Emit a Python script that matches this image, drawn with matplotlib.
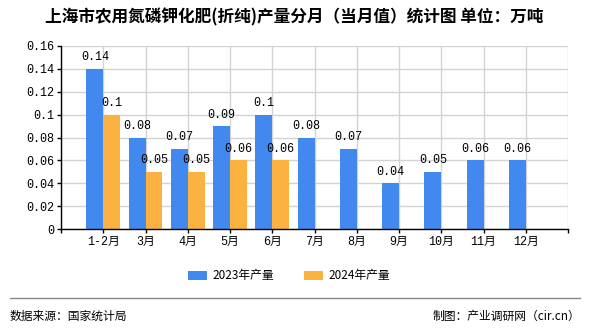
import matplotlib as mpl
import matplotlib.pyplot as plt
import numpy as np

mpl.rcParams['font.family'] = ['Noto Sans CJK SC', 'DejaVu Sans']
mono = ['Liberation Mono', 'Noto Sans CJK SC']

months = ['1-2月', '3月', '4月', '5月', '6月', '7月', '8月', '9月', '10月', '11月', '12月']
output_2023 = [0.14, 0.08, 0.07, 0.09, 0.1, 0.08, 0.07, 0.04, 0.05, 0.06, 0.06]
output_2024 = [0.1, 0.05, 0.05, 0.06, 0.06]
yticks = [0, 0.02, 0.04, 0.06, 0.08, 0.1, 0.12, 0.14, 0.16]

blue = '#4189ee'
orange = '#fbb240'
w = 0.4

fig = plt.figure(figsize=(5.9, 3.3), dpi=100)
ax = fig.add_axes([61/590, 1-229/330, (568-61)/590, (229-46)/330])

x1 = np.arange(len(output_2023))
x2 = np.arange(len(output_2024))
b1 = ax.bar(x1 - w/2, output_2023, w, color=blue, label='2023年产量', zorder=3)
b2 = ax.bar(x2 + w/2, output_2024, w, color=orange, label='2024年产量', zorder=3)

def fmt(v):
    return ('%.2f' % v).rstrip('0')

for bars, vals in ((b1, output_2023), (b2, output_2024)):
    for b, v in zip(bars, vals):
        ax.annotate(fmt(v), (b.get_x() + b.get_width()/2, v), xytext=(0, 4),
                    textcoords='offset points', ha='center', va='bottom',
                    fontsize=8.5, family=mono)

ax.set_xlim(-1, len(months))
ax.set_ylim(0, 0.16)
ax.set_yticks(yticks)
ax.set_yticklabels([fmt(v) if v else '0' for v in yticks], fontsize=8.5, family=mono)
ax.set_xticks(np.arange(-1, len(months) + 1))
ax.set_xticklabels([''] + months + [''], fontsize=8.5, family=mono)
ax.tick_params(axis='both', length=3, width=1, color='black', pad=2)
ax.grid(True, color='#d3d3d3', linewidth=1, zorder=0)
ax.set_axisbelow(True)
for s in ('top', 'right'):
    ax.spines[s].set_visible(False)
for s in ('left', 'bottom'):
    ax.spines[s].set_color('black')
    ax.spines[s].set_linewidth(1)
    ax.spines[s].set_zorder(4)

fig.text(294/590, 1-17/330, '上海市农用氮磷钾化肥(折纯)产量分月（当月值）统计图 单位：万吨',
         ha='center', va='center', fontsize=12, fontweight='bold')

fig.legend(handles=[b1, b2], loc='center', bbox_to_anchor=(0.49, 1-276/330), ncol=2,
           frameon=False, fontsize=8.5, handlelength=1.6, handleheight=0.8,
           columnspacing=2.5, handletextpad=0.5)

fig.add_artist(plt.Line2D([10/590, 580/590], [1-298/330, 1-298/330],
                          color='#888888', linewidth=1))
fig.text(10/590, 1-316/330, '数据来源：国家统计局', ha='left', va='center', fontsize=8.5)
fig.text(580/590, 1-316/330, '制图：产业调研网（cir.cn）', ha='right', va='center', fontsize=8.5)

fig.savefig('out.png', dpi=100)
